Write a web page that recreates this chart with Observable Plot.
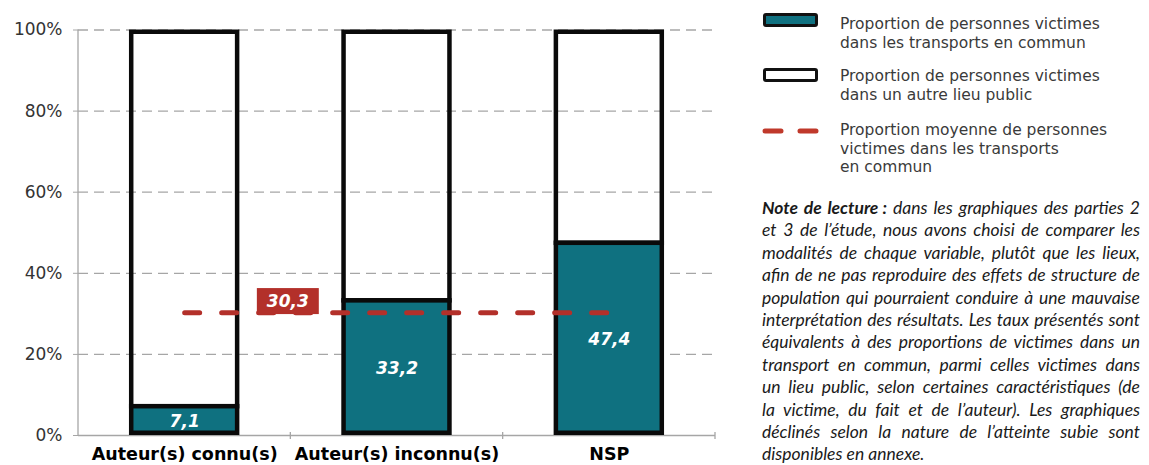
<!DOCTYPE html>
<html><head><meta charset="utf-8">
<script src="https://cdn.jsdelivr.net/npm/d3@7"></script>
<script src="https://cdn.jsdelivr.net/npm/@observablehq/plot@0.6"></script>
<style>
body{margin:0;background:#fff;}
#wrap{position:relative;width:1149px;height:465px;overflow:hidden;font-family:"DejaVu Sans",sans-serif;background:#fff;}
#chart{position:absolute;left:0;top:0;}
.leg{position:absolute;left:840px;font-size:15.5px;line-height:18.5px;color:#3a3a3a;white-space:nowrap;}
.sw{position:absolute;left:763px;width:55px;height:14px;box-sizing:border-box;border:3px solid #111;border-radius:3px;}
#note{position:absolute;left:762px;top:197px;width:378px;font-family:Lato,sans-serif;font-style:italic;font-size:17.5px;line-height:22.4px;color:#1a1a1a;}
#note span{display:block;text-align:justify;text-align-last:justify;}
#note span.last{text-align-last:left;}
</style></head>
<body>
<div id="wrap">
  <div id="chart"></div>
  <div class="sw" style="top:13px;background:#0f7180;"></div>
  <div class="leg" style="top:15px;">Proportion de personnes victimes<br>dans les transports en commun</div>
  <div class="sw" style="top:68px;background:#fff;"></div>
  <div class="leg" style="top:67px;">Proportion de personnes victimes<br>dans un autre lieu public</div>
  <svg style="position:absolute;left:760px;top:124px" width="64" height="14"><line x1="5" x2="59" y1="7" y2="7" stroke="#c0392b" stroke-width="5" stroke-linecap="round" stroke-dasharray="16,19"/></svg>
  <div class="leg" style="top:121px;">Proportion moyenne de personnes<br>victimes dans les transports<br>en commun</div>
  <div id="note">
    <span><b>Note de lecture&#8239;:</b> dans les graphiques des parties 2</span>
    <span>et 3 de l’étude, nous avons choisi de comparer les</span>
    <span>modalités de chaque variable, plutôt que les lieux,</span>
    <span>afin de ne pas reproduire des effets de structure de</span>
    <span>population qui pourraient conduire à une mauvaise</span>
    <span>interprétation des résultats. Les taux présentés sont</span>
    <span>équivalents à des proportions de victimes dans un</span>
    <span>transport en commun, parmi celles victimes dans</span>
    <span>un lieu public, selon certaines caractéristiques (de</span>
    <span>la victime, du fait et de l’auteur). Les graphiques</span>
    <span>déclinés selon la nature de l’atteinte subie sont</span>
    <span class="last">disponibles en annexe.</span>
  </div>
</div>
<script>
// ---- data ----
const categories = ["Auteur(s) connu(s)", "Auteur(s) inconnu(s)", "NSP"];
const transportShare = [7.1, 33.2, 47.4];
const otherPlaceShare = [92.9, 66.8, 52.6];
const meanTransportShare = 30.3;
const yTicks = [0, 20, 40, 60, 80, 100];

// ---- style ----
const TEAL = "#0f7180", RED = "#b3302a", INK = "#0a0a0a", GRID = "#a6a6a6";
const W = 730, H = 465, ML = 78, MR = 15, MT = 29.5, MB = 30;
const STEP = (W - ML - MR) / categories.length;
const fmt = v => v.toFixed(1).replace(".", ",");

const rows = categories.map((c, i) => ({cat: c, transport: transportShare[i], other: otherPlaceShare[i]}));

function axisFrame(index, scales) {
  const x = scales.x, y = scales.y;
  const g = d3.create("svg:g").attr("stroke", GRID).attr("stroke-width", 1.3);
  const [r0] = x.range();
  g.append("line").attr("x1", r0).attr("x2", r0).attr("y1", y(100)).attr("y2", y(0));
  categories.forEach(c => {
    const bx = x(c) + x.bandwidth() + x.step() * x.paddingInner() / 2;
    g.append("line").attr("x1", bx).attr("x2", bx).attr("y1", y(0) - 3).attr("y2", y(0) + 4);
  });
  return g.node();
}

const chart = Plot.plot({
  width: W, height: H,
  marginLeft: ML, marginRight: MR, marginTop: MT, marginBottom: MB,
  style: {fontFamily: "'DejaVu Sans', sans-serif", fontSize: "17px", color: "#333", background: "white"},
  x: {domain: categories, paddingInner: 0.48, paddingOuter: 0.24, round: false, label: null},
  y: {domain: [0, 100], label: null},
  marks: [
    Plot.ruleY(yTicks.filter(t => t > 0), {stroke: GRID, strokeWidth: 1.3, strokeDasharray: "10,6"}),
    Plot.ruleY([0], {stroke: GRID, strokeWidth: 1.3}),
    axisFrame,
    Plot.axisY({ticks: yTicks, tickFormat: d => d + "%", tickSize: 5, tickPadding: 11, fontSize: 17, stroke: GRID, fill: "#333", label: null}),
    Plot.axisX({tickSize: 0, tickPadding: 12, fontSize: 17.5, fontWeight: "bold", fill: "#000", label: null}),
    Plot.barY(rows, {x: "cat", y1: "transport", y2: d => d.transport + d.other, fill: "none", stroke: INK, strokeWidth: 4.5,
      insetLeft: 2.25, insetRight: 2.25, insetTop: 2.25, insetBottom: 0}),
    Plot.barY(rows, {x: "cat", y1: 0, y2: "transport", fill: TEAL, stroke: INK, strokeWidth: 4.5,
      insetLeft: 2.25, insetRight: 2.25, insetTop: 0, insetBottom: 2.25}),
    Plot.line([{cat: categories[0], v: meanTransportShare}, {cat: categories[2], v: meanTransportShare}],
      {x: "cat", y: "v", stroke: RED, strokeWidth: 5, strokeDasharray: "15,22", strokeLinecap: "round"}),
    Plot.text(rows, {x: "cat", y: d => d.transport / 2, text: d => fmt(d.transport), fill: "white",
      fontWeight: "bold", fontStyle: "italic", fontSize: 17}),
    Plot.text([{cat: categories[1], v: meanTransportShare}], {x: "cat", y: "v", text: d => fmt(d.v),
      dx: -STEP / 2 - 3, dy: -11, fill: "white", fontWeight: "bold", fontStyle: "italic", fontSize: 17})
  ]
});
document.getElementById("chart").appendChild(chart);

// red box behind the mean label
const meanText = fmt(meanTransportShare);
const lbl = Array.from(chart.querySelectorAll("text")).find(t => t.textContent === meanText);
if (lbl) {
  const b = lbl.getBBox();
  const r = document.createElementNS("http://www.w3.org/2000/svg", "rect");
  r.setAttribute("x", b.x - 10); r.setAttribute("y", b.y - 3);
  r.setAttribute("width", b.width + 20); r.setAttribute("height", b.height + 6);
  r.setAttribute("fill", RED);
  const tr = lbl.getAttribute("transform");
  if (tr) r.setAttribute("transform", tr);
  lbl.parentNode.insertBefore(r, lbl);
}
</script>
</body></html>
